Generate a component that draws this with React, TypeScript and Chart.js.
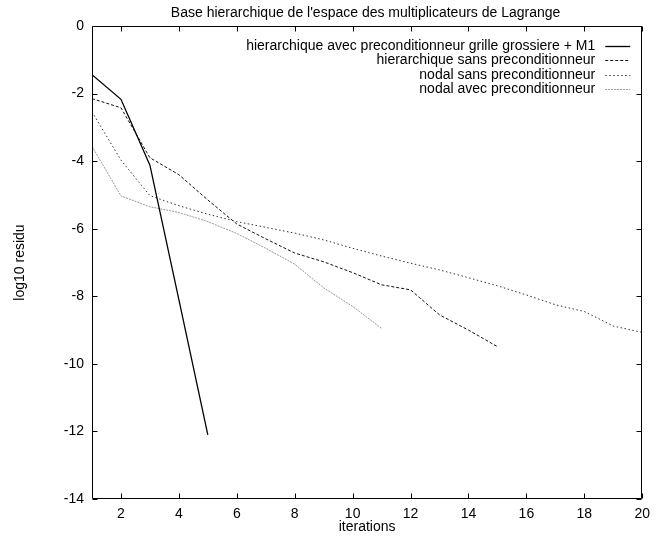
import React, { useEffect, useRef } from "react";
import { Chart, registerables } from "chart.js";

Chart.register(...registerables);

const titleText = "Base hierarchique de l'espace des multiplicateurs de Lagrange";
const xAxisLabel = "iterations";
const yAxisLabel = "log10 residu";

const iterations = [1, 2, 3, 4, 5, 6, 7, 8, 9, 10, 11, 12, 13, 14, 15, 16, 17, 18, 19, 20];
const xTickValues = [2, 4, 6, 8, 10, 12, 14, 16, 18, 20];
const yTickValues = [0, -2, -4, -6, -8, -10, -12, -14];

const seriesNames = [
  "hierarchique avec preconditionneur grille grossiere + M1",
  "hierarchique sans preconditionneur",
  "nodal sans preconditionneur",
  "nodal avec preconditionneur",
];

const hierAvecPrecond = [-1.44, -2.17, -4.12, -8.1, -12.1];
const hierSansPrecond = [-2.15, -2.42, -3.9, -4.4, -5.15, -5.86, -6.3, -6.72, -6.98, -7.3, -7.66, -7.81, -8.55, -9.0, -9.49];
const nodalSansPrecond = [-2.54, -3.97, -5.02, -5.32, -5.57, -5.79, -5.96, -6.13, -6.33, -6.58, -6.81, -7.02, -7.22, -7.45, -7.69, -7.96, -8.25, -8.45, -8.88, -9.07];
const nodalAvecPrecond = [-3.56, -5.03, -5.35, -5.52, -5.79, -6.14, -6.58, -7.05, -7.75, -8.3, -8.95];

const FONT = "'Liberation Sans', Arial, Helvetica, sans-serif";
const FONT_SIZE = 14;

const lineStyles = [
  { color: "#000000", width: 1.3, dash: [] as number[] },
  { color: "#111111", width: 1, dash: [3, 2] },
  { color: "#333333", width: 1, dash: [1.5, 2.5] },
  { color: "#999999", width: 1, dash: [2, 1] },
];

const toPoints = (vals: number[]) => vals.map((v, i) => ({ x: iterations[i], y: v }));

const framePlugin = {
  id: "gnuplotFrame",
  afterDraw(chart: any) {
    const { ctx, chartArea: a, scales } = chart;
    const xs = scales.x;
    const ys = scales.y;
    ctx.save();
    ctx.strokeStyle = "#000";
    ctx.lineWidth = 1;
    ctx.setLineDash([]);
    const L = Math.round(a.left) + 0.5;
    const R = Math.round(a.right) - 0.5;
    const T = Math.round(a.top) + 0.5;
    const B = Math.round(a.bottom) - 0.5;
    ctx.beginPath();
    ctx.rect(L, T, R - L, B - T);
    ctx.stroke();
    const tl = 5;
    ctx.beginPath();
    xTickValues.forEach((v) => {
      const px = Math.round(xs.getPixelForValue(v)) + 0.5;
      ctx.moveTo(px, B);
      ctx.lineTo(px, B - tl);
      ctx.moveTo(px, T);
      ctx.lineTo(px, T + tl);
    });
    yTickValues.forEach((v) => {
      const py = Math.round(ys.getPixelForValue(v)) + 0.5;
      ctx.moveTo(L, py);
      ctx.lineTo(L + tl, py);
      ctx.moveTo(R, py);
      ctx.lineTo(R - tl, py);
    });
    ctx.stroke();

    // title
    ctx.fillStyle = "#000";
    ctx.font = `${FONT_SIZE}px ${FONT}`;
    ctx.textAlign = "center";
    ctx.textBaseline = "alphabetic";
    ctx.fillText(titleText, (a.left + a.right) / 2 - 1.5, 17);

    // legend (gnuplot key, top right inside)
    ctx.textAlign = "right";
    ctx.textBaseline = "middle";
    seriesNames.forEach((name, i) => {
      const y = a.top + 20 + i * 14.4;
      ctx.fillStyle = "#000";
      ctx.fillText(name, a.right - 47, y);
      const st = lineStyles[i];
      ctx.strokeStyle = st.color;
      ctx.lineWidth = st.width;
      ctx.setLineDash(st.dash);
      ctx.beginPath();
      ctx.moveTo(a.right - 37, Math.round(y) + 0.5);
      ctx.lineTo(a.right - 12, Math.round(y) + 0.5);
      ctx.stroke();
    });
    ctx.restore();
  },
};

export default function App() {
  const canvasRef = useRef<HTMLCanvasElement | null>(null);

  useEffect(() => {
    if (!canvasRef.current) return;
    const allSeries = [hierAvecPrecond, hierSansPrecond, nodalSansPrecond, nodalAvecPrecond];
    const chart = new Chart(canvasRef.current, {
      type: "line",
      data: {
        datasets: allSeries.map((vals, i) => ({
          label: seriesNames[i],
          data: toPoints(vals),
          borderColor: lineStyles[i].color,
          borderWidth: lineStyles[i].width,
          borderDash: lineStyles[i].dash,
          pointRadius: 0,
          tension: 0,
          fill: false,
        })),
      },
      options: {
        responsive: false,
        animation: false,
        devicePixelRatio: 1,
        layout: { padding: { top: 26, right: 10, left: 0, bottom: 0 } },
        plugins: {
          legend: { display: false },
          title: { display: false },
          tooltip: { enabled: false },
        },
        scales: {
          x: {
            type: "linear",
            min: 1,
            max: 20,
            grid: { display: false, drawTicks: false },
            border: { display: false },
            afterBuildTicks: (scale: any) => {
              scale.ticks = xTickValues.map((v) => ({ value: v }));
            },
            afterFit: (scale: any) => {
              scale.height = 40;
            },
            ticks: {
              padding: 7,
              color: "#000",
              font: { family: FONT, size: FONT_SIZE },
              maxRotation: 0,
              autoSkip: false,
              callback: (v: any) => String(v),
            },
            title: {
              display: true,
              text: xAxisLabel,
              color: "#000",
              font: { family: FONT, size: FONT_SIZE },
              padding: { top: 0, bottom: 3 },
            },
          },
          y: {
            type: "linear",
            min: -14,
            max: 0,
            grid: { display: false, drawTicks: false },
            border: { display: false },
            afterBuildTicks: (scale: any) => {
              scale.ticks = yTickValues.map((v) => ({ value: v }));
            },
            afterFit: (scale: any) => {
              scale.width = 92;
            },
            ticks: {
              padding: 8,
              color: "#000",
              font: { family: FONT, size: FONT_SIZE },
              autoSkip: false,
              callback: (v: any) => String(v),
            },
            title: {
              display: true,
              text: yAxisLabel,
              color: "#000",
              font: { family: FONT, size: FONT_SIZE },
              padding: { top: 12, bottom: 0 },
            },
          },
        },
      },
      plugins: [framePlugin],
    } as any);
    return () => chart.destroy();
  }, []);

  return (
    <div style={{ position: "absolute", left: 0, top: 0, width: 657, height: 539, background: "#fff" }}>
      <canvas ref={canvasRef} width={657} height={539} style={{ display: "block" }} />
    </div>
  );
}
